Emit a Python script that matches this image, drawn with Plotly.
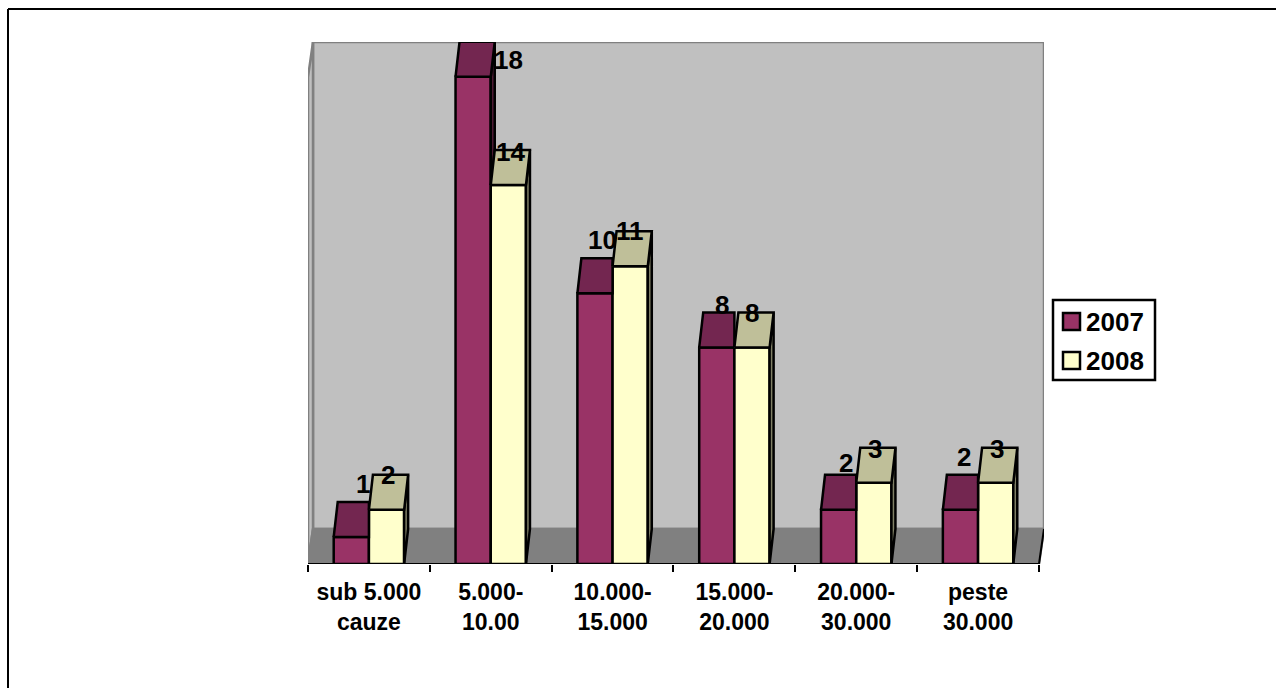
import plotly.graph_objects as go

categories = ["sub 5.000<br>cauze", "5.000-<br>10.00", "10.000-<br>15.000",
              "15.000-<br>20.000", "20.000-<br>30.000", "peste<br>30.000"]
series_names = ["2007", "2008"]
values_2007 = [1, 18, 10, 8, 2, 2]
values_2008 = [2, 14, 11, 8, 3, 3]

# styling: pixel shifts of the data labels from the top centre of each front face
shifts_2007 = [(12, 53), (35, 17), (8, 53), (5, 42), (7, 47), (4, 53)]
shifts_2008 = [(1, 35), (2, 33), (0, 35), (0, 34), (1, 34), (1, 34)]

W, H = 1276, 688
PX_L, PX_R, PX_T, PX_B = 308, 1044, 42, 564
PX_PER_CAT = 121.83
PX_PER_UNIT = 27.07
DX = 5 / PX_PER_CAT      # depth of the walls
BDX = 4 / PX_PER_CAT     # depth of the bars
DY = 35 / PX_PER_UNIT
XMAX = (PX_R - PX_L) / PX_PER_CAT
YMAX = (PX_B - PX_T) / PX_PER_UNIT
BW = 35.2 / PX_PER_CAT

FRONT = {"2007": "#993366", "2008": "#FFFFCC"}
TOP = {"2007": "#732650", "2008": "#BFBF99"}
SIDE = {"2007": "#4D1A33", "2008": "#808066"}
WALL, FLOOR, EDGE = "#C0C0C0", "#808080", "#808080"
FONT = "Liberation Sans"
LW = 2.5


def poly(pts, fill):
    return go.Scatter(x=[p[0] for p in pts] + [pts[0][0]], y=[p[1] for p in pts] + [pts[0][1]],
                      mode="lines", fill="toself", fillcolor=fill, line=dict(color="black", width=LW),
                      hoverinfo="skip", showlegend=False, cliponaxis=False, xaxis="x", yaxis="y")


centers = [i + 0.5 for i in range(len(categories))]
fig = go.Figure()
fig.add_trace(go.Bar(name=series_names[0], x=centers, y=values_2007, width=BW, offset=-BW,
                     marker=dict(color=FRONT["2007"], line=dict(color="black", width=LW)), cliponaxis=False))
fig.add_trace(go.Bar(name=series_names[1], x=centers, y=values_2008, width=BW, offset=0,
                     marker=dict(color=FRONT["2008"], line=dict(color="black", width=LW)), cliponaxis=False))
# invisible trace carrying the category labels on the overlaid axis
fig.add_trace(go.Scatter(x=centers, y=values_2007, xaxis="x2", yaxis="y", mode="none",
                         showlegend=False, hoverinfo="skip"))

for c, v1, v2 in zip(centers, values_2007, values_2008):
    L, R, R2 = c - BW, c, c + BW
    # first series: the part hidden by the second series is left out
    if v1 > v2:
        fig.add_trace(poly([(R, v1), (R + BDX, v1 + DY), (R + BDX, v2 + DY), (R, v2)], SIDE["2007"]))
        fig.add_trace(poly([(L, v1), (L + BDX, v1 + DY), (R + BDX, v1 + DY), (R, v1)], TOP["2007"]))
    else:
        fig.add_trace(poly([(L, v1), (L + BDX, v1 + DY), (R, v1 + DY), (R, v1)], TOP["2007"]))
    fig.add_trace(poly([(R2, 0), (R2 + BDX, DY), (R2 + BDX, v2 + DY), (R2, v2)], SIDE["2008"]))
    fig.add_trace(poly([(R, v2), (R + BDX, v2 + DY), (R2 + BDX, v2 + DY), (R2, v2)], TOP["2008"]))

annotations = []
for c, v1, v2, s1, s2 in zip(centers, values_2007, values_2008, shifts_2007, shifts_2008):
    for xc, v, s in ((c - BW / 2, v1, s1), (c + BW / 2, v2, s2)):
        annotations.append(dict(x=xc, y=v, xref="x", yref="y", text=str(v), showarrow=False,
                                xshift=s[0], yshift=s[1], xanchor="center", yanchor="middle",
                                font=dict(family=FONT, size=26, color="black", weight="bold")))

px = lambda x: (x - PX_L) / (PX_R - PX_L)
py = lambda y: (PX_B - y) / (PX_B - PX_T)


def rect(x0, x1, y0, y1, fill):
    return dict(type="rect", xref="paper", yref="paper", x0=px(x0), x1=px(x1), y0=py(y0), y1=py(y1),
                fillcolor=fill, line=dict(color="black", width=LW), layer="above")


shapes = [
    dict(type="path", xref="x", yref="y", layer="below", fillcolor=WALL, line=dict(color=EDGE, width=LW),
         path=f"M {DX} {DY} L {XMAX} {DY} L {XMAX} {YMAX} L {DX} {YMAX} Z"),
    dict(type="path", xref="x", yref="y", layer="below", fillcolor=WALL, line=dict(color=EDGE, width=LW),
         path=f"M 0 0 L {DX} {DY} L {DX} {YMAX} L 0 {YMAX - DY} Z"),
    dict(type="path", xref="x", yref="y", layer="below", fillcolor=FLOOR, line=dict(color=EDGE, width=LW),
         path=f"M 0 0 L {DX} {DY} L {XMAX} {DY} L 6 0 Z"),
    dict(type="line", xref="x", yref="y", layer="above", x0=0, x1=6, y0=0, y1=0, line=dict(color="black", width=2)),
    dict(type="line", xref="x", yref="y", layer="above", x0=6, x1=XMAX, y0=0, y1=DY, line=dict(color="black", width=2)),
    # outer chart frame
    dict(type="line", xref="paper", yref="paper", x0=px(8), x1=px(W + 5), y0=py(9), y1=py(9),
         line=dict(color="black", width=2)),
    dict(type="line", xref="paper", yref="paper", x0=px(8), x1=px(8), y0=py(9), y1=py(H + 5),
         line=dict(color="black", width=2)),
    # legend box and swatches
    rect(1053, 1155, 300, 380, "white"),
    rect(1063, 1080, 313, 330, FRONT["2007"]),
    rect(1063, 1080, 352, 369, FRONT["2008"]),
]
for name, yc in zip(series_names, (322, 361)):
    annotations.append(dict(x=px(1085), y=py(yc), xref="paper", yref="paper", text=name, showarrow=False,
                            xanchor="left", yanchor="middle", xshift=0, borderpad=0,
                            font=dict(family=FONT, size=26, color="black", weight="bold")))

fig.update_layout(
    width=W, height=H, autosize=False, barmode="overlay", showlegend=False,
    margin=dict(l=PX_L, r=W - PX_R, t=PX_T, b=H - PX_B, pad=0),
    paper_bgcolor="white", plot_bgcolor="rgba(0,0,0,0)",
    font=dict(family=FONT, color="black"),
    xaxis=dict(range=[0, XMAX], tickmode="array", tickvals=list(range(7)), ticktext=[""] * 7,
               ticks="outside", ticklen=7, tickwidth=2, tickcolor="black", showgrid=False,
               zeroline=False, showline=False, fixedrange=True),
    xaxis2=dict(range=[0, XMAX], overlaying="x", side="bottom", anchor="y", tickmode="array",
                tickvals=centers, ticktext=categories, ticks="", showgrid=False, zeroline=False,
                showline=False, tickangle=0, ticklabelstandoff=12,
                tickfont=dict(family=FONT, size=23, color="black", weight="bold")),
    yaxis=dict(range=[0, YMAX], visible=False, fixedrange=True),
    shapes=shapes, annotations=annotations,
)
fig.write_html("out.html", config={"displayModeBar": False},
               post_script="document.body.style.margin='0';document.body.style.overflow='hidden';")
